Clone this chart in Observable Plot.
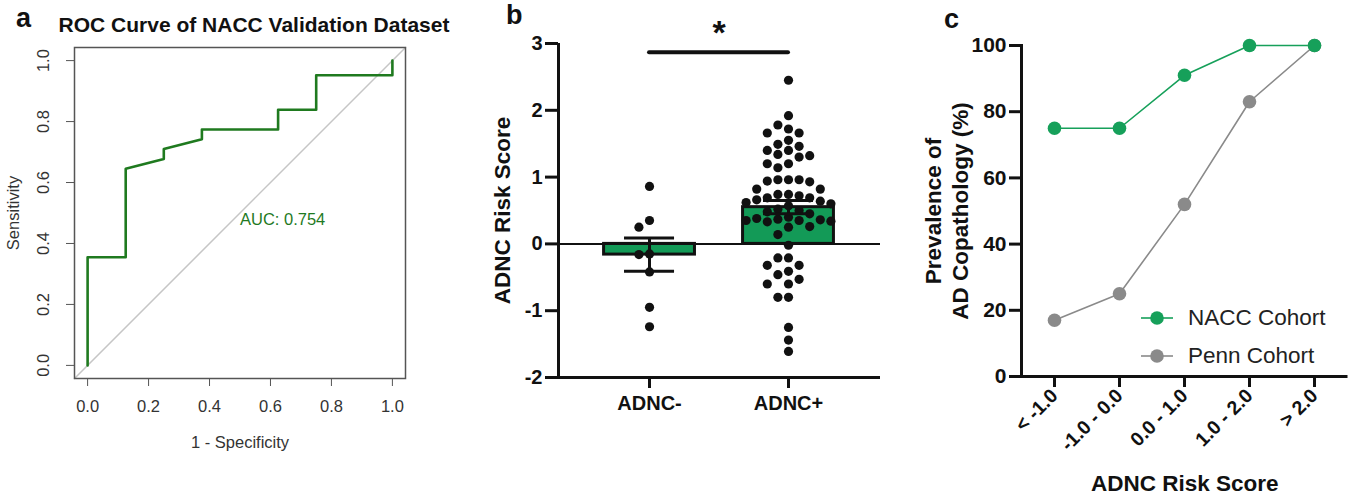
<!DOCTYPE html>
<html>
<head>
<meta charset="utf-8">
<script src="https://cdn.jsdelivr.net/npm/d3@7"></script>
<script src="https://cdn.jsdelivr.net/npm/@observablehq/plot@0.6"></script>
<style>
  body { margin: 0; background: #fff; font-family: "Liberation Sans", Arial, sans-serif; }
  #wrap { position: relative; width: 1355px; height: 500px; overflow: hidden; background: #fff; }
  .panel { position: absolute; top: 0; }
  .letter { position: absolute; font-weight: bold; font-size: 27px; line-height: 27px; color: #111; }
  #legend { position: absolute; left: 1141px; top: 299px; font-size: 22.5px; color: #222; }
  #legend .row { display: flex; align-items: center; height: 38px; }
  #legend svg { display: block; margin-right: 15px; }
</style>
</head>
<body>
<div id="wrap">
  <div class="panel" id="pa" style="left:0px"></div>
  <div class="panel" id="pb" style="left:460px"></div>
  <div class="panel" id="pc" style="left:880px"></div>
  <div class="letter" style="left:16px;top:5px">a</div>
  <div class="letter" style="left:506px;top:2px">b</div>
  <div class="letter" style="left:944px;top:6px">c</div>
  <div id="legend"></div>
</div>
<script>
// ---------- Panel a: ROC curve ----------
const rocFpr = [0, 0, 0.125, 0.125, 0.25, 0.25, 0.375, 0.375, 0.625, 0.625, 0.75, 0.75, 1, 1];
const rocTpr = [0, 0.355, 0.355, 0.645, 0.677, 0.71, 0.742, 0.774, 0.774, 0.839, 0.839, 0.952, 0.952, 1];
const rocTicks = [0, 0.2, 0.4, 0.6, 0.8, 1];
const aucText = "AUC: 0.754";
const rocTitle = "ROC Curve of NACC Validation Dataset";

// ---------- Panel b: ADNC risk score ----------
const groups = ["ADNC-", "ADNC+"];
const groupMeans = [-0.16, 0.55];
const groupSem = [0.25, 0.1];
const adncNeg = [0.86, 0.35, 0.25, -0.15, -0.16, -0.42, -0.95, -1.24];
const adncPos = [2.45, 1.92, 1.78, 1.72, 1.66, 1.66, 1.55, 1.49, 1.46, 1.40, 1.40, 1.34, 1.32, 1.30, 1.20, 1.20, 1.14,
  0.96, 0.96, 0.96, 0.94, 0.93, 0.82, 0.82, 0.74, 0.74, 0.72, 0.69, 0.69, 0.66, 0.64, 0.62, 0.60,
  0.57, 0.52, 0.50, 0.48, 0.45, 0.40, 0.38, 0.37, 0.36, 0.35, 0.35, 0.34, 0.33, 0.26, 0.25, 0.14,
  -0.02, -0.21, -0.21, -0.32, -0.32, -0.41, -0.46, -0.53, -0.60, -0.60, -0.80, -0.80, -1.25, -1.44, -1.61];
const scoreTicks = [-2, -1, 0, 1, 2, 3];
const sigLevel = 2.87;
const sigText = "*";

// ---------- Panel c: prevalence ----------
const scoreBins = ["< -1.0", "-1.0 - 0.0", "0.0 - 1.0", "1.0 - 2.0", "> 2.0"];
const naccPrev = [75, 75, 91, 100, 100];
const pennPrev = [17, 25, 52, 83, 100];
const prevTicks = [0, 20, 40, 60, 80, 100];
const seriesNames = ["NACC Cohort", "Penn Cohort"];

const FONT = '"Liberation Sans", Arial, sans-serif';
const rocGreen = "#1f7a1f";
const barGreen = "#139a57";
const naccGreen = "#16a05a";
const pennGrey = "#8a8a8a";

// ===== Panel a =====
const rocDom = [-0.043, 1.043];
const rocData = rocFpr.map((x, i) => ({x, y: rocTpr[i]}));
const pa = Plot.plot({
  width: 460, height: 460,
  marginLeft: 74, marginRight: 55, marginTop: 47, marginBottom: 82,
  style: {fontFamily: FONT, background: "white", color: "#333", overflow: "visible"},
  x: {domain: rocDom},
  y: {domain: rocDom},
  marks: [
    Plot.line(rocDom, {x: d => d, y: d => d, stroke: "#c6c6c6", strokeWidth: 1.5}),
    Plot.line(rocData, {x: "x", y: "y", stroke: rocGreen, strokeWidth: 2.6}),
    Plot.frame({stroke: "#555", strokeWidth: 1.5}),
    Plot.axisX({ticks: rocTicks, tickFormat: d3.format(".1f"), tickSize: 8, tickPadding: 14,
      fontSize: 16.5, stroke: "#555", fill: "#333", label: null}),
    Plot.axisY({ticks: rocTicks, tickSize: 8, tickFormat: () => "", stroke: "#555", label: null}),
    Plot.text(rocTicks, {y: d => d, text: d3.format(".1f"), frameAnchor: "left", dx: -31,
      rotate: -90, textAnchor: "middle", fontSize: 16.5, fill: "#333"}),
    Plot.text([rocTitle], {frameAnchor: "top", dx: 14, dy: -30, fontSize: 21, fontWeight: "bold", fill: "#111"}),
    Plot.text(["1 - Specificity"], {frameAnchor: "bottom", dy: 69, fontSize: 16.5, fill: "#333"}),
    Plot.text(["Sensitivity"], {frameAnchor: "left", dx: -61, rotate: -90, textAnchor: "middle",
      fontSize: 16.5, fill: "#333"}),
    Plot.text([aucText], {x: 0.5, y: 0.479, textAnchor: "start", fontSize: 16.5, fill: rocGreen})
  ]
});
document.getElementById("pa").appendChild(pa);

// ===== Panel b =====
const bW = 420, bH = 460, bML = 98, bMR = 0, bMT = 43, bMB = 83;
const bXDom = [-0.655, 1.662], bYDom = [-2, 3];
const xPx = (bW - bML - bMR) / (bXDom[1] - bXDom[0]);
const yPx = (bH - bMT - bMB) / (bYDom[1] - bYDom[0]);

function swarm(values, center) {
  const diam = 9.6, step = 10.6;
  const placed = [];
  const sorted = values.slice().sort((a, b) => b - a);
  const out = [];
  for (const v of sorted) {
    const py = v * yPx;
    let off = 0;
    for (let n = 0; n < 40; n++) {
      const k = Math.ceil(n / 2);
      off = n === 0 ? 0 : (n % 2 ? -k : k) * step;
      if (placed.every(p => Math.hypot(p.x - off, p.y - py) >= diam)) break;
    }
    placed.push({x: off, y: py});
    out.push({x: center + off / xPx, y: v});
  }
  return out;
}
const dots = [...swarm(adncNeg, 0), ...swarm(adncPos, 1)];
const halfBar = 0.327, halfCap = 0.18;
const barData = groups.map((g, i) => ({i, g, m: groupMeans[i], s: groupSem[i]}));

const pb = Plot.plot({
  width: bW, height: bH,
  marginLeft: bML, marginRight: bMR, marginTop: bMT, marginBottom: bMB,
  style: {fontFamily: FONT, background: "white", color: "#111", overflow: "visible"},
  x: {domain: bXDom},
  y: {domain: bYDom},
  marks: [
    Plot.rectY(barData, {x1: d => d.i - halfBar, x2: d => d.i + halfBar, y1: 0, y2: "m",
      fill: barGreen, stroke: "#111", strokeWidth: 3}),
    Plot.ruleY([0], {stroke: "#111", strokeWidth: 2}),
    Plot.dot(dots, {x: "x", y: "y", r: 4.6, fill: "#111"}),
    Plot.ruleX(barData, {x: "i", y1: d => d.m - d.s, y2: d => d.m + d.s, stroke: "#111", strokeWidth: 3}),
    Plot.ruleY(barData, {y: d => d.m + d.s, x1: d => d.i - halfCap, x2: d => d.i + halfCap, stroke: "#111", strokeWidth: 3}),
    Plot.ruleY(barData, {y: d => d.m - d.s, x1: d => d.i - halfCap, x2: d => d.i + halfCap, stroke: "#111", strokeWidth: 3}),
    Plot.ruleX([bXDom[0]], {stroke: "#111", strokeWidth: 3}),
    Plot.ruleY([bYDom[0]], {stroke: "#111", strokeWidth: 3}),
    Plot.ruleY([sigLevel], {x1: 0, x2: 1, stroke: "#111", strokeWidth: 4, strokeLinecap: "round"}),
    Plot.text([sigText], {x: 0.5, y: 3.15, fontSize: 34, fontWeight: "bold", fill: "#111"}),
    Plot.axisY({ticks: scoreTicks, tickFormat: d => String(d), tickSize: 13, tickPadding: 3, strokeWidth: 3,
      fontSize: 20, fontWeight: "bold", label: null}),
    Plot.axisX({ticks: [0, 1], tickFormat: i => groups[i], tickSize: 11, tickPadding: 7, strokeWidth: 3,
      fontSize: 20, fontWeight: "bold", label: null}),
    Plot.text(["ADNC Risk Score"], {frameAnchor: "left", dx: -56, rotate: -90, textAnchor: "middle",
      fontSize: 22.5, fontWeight: "bold", fill: "#111"})
  ]
});
document.getElementById("pb").appendChild(pb);

// ===== Panel c =====
const prevData = [
  ...scoreBins.map((b, i) => ({bin: b, v: pennPrev[i], s: seriesNames[1]})),
  ...scoreBins.map((b, i) => ({bin: b, v: naccPrev[i], s: seriesNames[0]}))
];
const colorOf = {[seriesNames[0]]: naccGreen, [seriesNames[1]]: pennGrey};
const pc = Plot.plot({
  width: 475, height: 500,
  marginLeft: 141, marginRight: 7.5, marginTop: 45, marginBottom: 124,
  style: {fontFamily: FONT, background: "white", color: "#111", overflow: "visible"},
  x: {type: "point", domain: scoreBins, padding: 0.5},
  y: {domain: [0, 100]},
  marks: [
    Plot.line(prevData, {x: "bin", y: "v", z: "s", stroke: d => colorOf[d.s], strokeWidth: 1.6}),
    Plot.dot(prevData, {x: "bin", y: "v", r: 6.8, fill: d => colorOf[d.s]}),
    Plot.frame({anchor: "left", stroke: "#111", strokeWidth: 3}),
    Plot.ruleY([0], {stroke: "#111", strokeWidth: 3}),
    Plot.axisY({ticks: prevTicks, tickSize: 12, tickPadding: 3, strokeWidth: 3, fontSize: 21,
      fontWeight: "bold", label: null}),
    Plot.axisX({tickSize: 11, tickPadding: 5, tickRotate: -45, strokeWidth: 3, fontSize: 19.5,
      fontWeight: "bold", label: null}),
    Plot.text(["ADNC Risk Score"], {frameAnchor: "bottom", dy: 114, fontSize: 22.5, fontWeight: "bold", fill: "#111"}),
    Plot.text(["Prevalence of"], {frameAnchor: "left", dx: -88, rotate: -90, textAnchor: "middle",
      fontSize: 22.5, fontWeight: "bold", fill: "#111"}),
    Plot.text(["AD Copathology (%)"], {frameAnchor: "left", dx: -61, rotate: -90, textAnchor: "middle",
      fontSize: 22.5, fontWeight: "bold", fill: "#111"})
  ]
});
document.getElementById("pc").appendChild(pc);

// legend
const legend = d3.select("#legend");
seriesNames.forEach(name => {
  const row = legend.append("div").attr("class", "row");
  const svg = row.append("svg").attr("width", 32).attr("height", 16);
  svg.append("line").attr("x1", 0).attr("x2", 32).attr("y1", 8).attr("y2", 8)
    .attr("stroke", colorOf[name]).attr("stroke-width", 1.6);
  svg.append("circle").attr("cx", 16).attr("cy", 8).attr("r", 6.8).attr("fill", colorOf[name]);
  row.append("span").text(name);
});
</script>
</body>
</html>
